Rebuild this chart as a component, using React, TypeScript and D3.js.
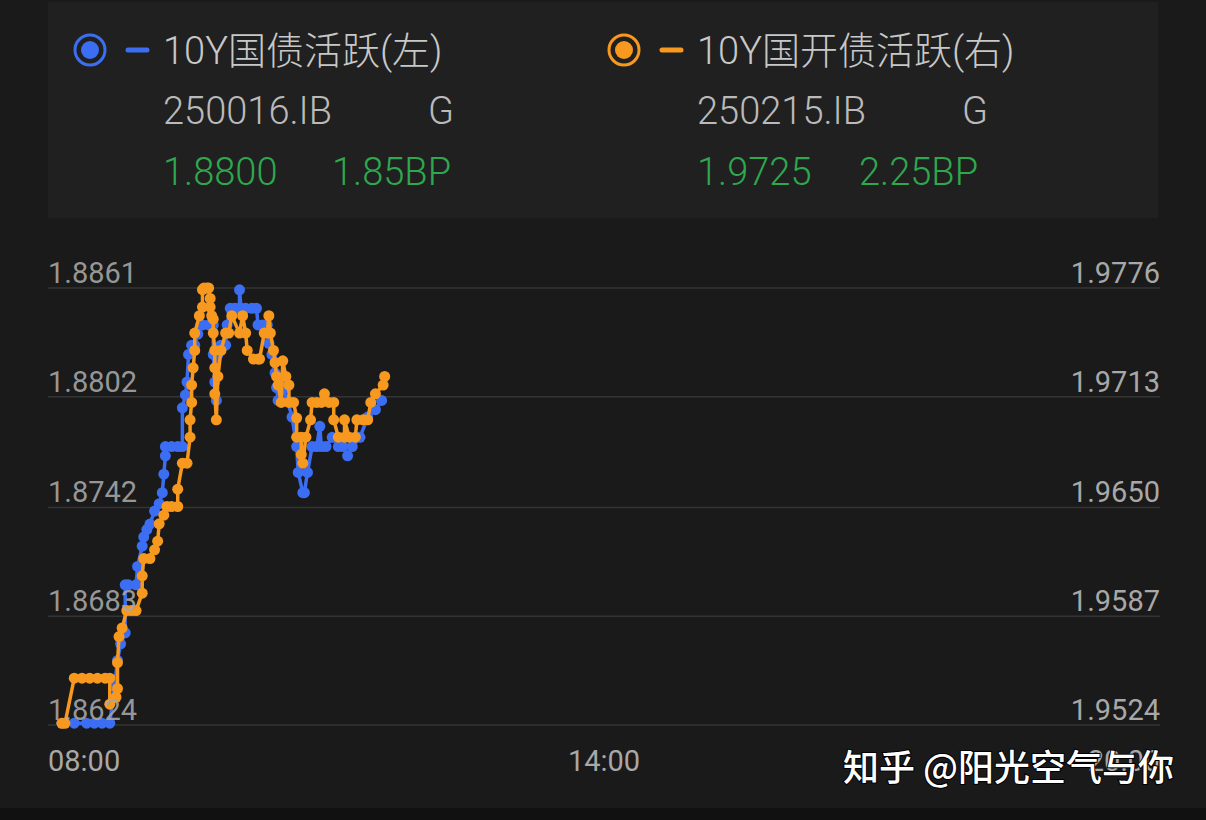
import React from "react";
import * as d3 from "d3";

// 10Y 国债活跃 (left axis)
const govTimes = [
  "08:09", "08:17", "08:25", "08:30", "08:35", "08:40", "08:43", "08:45", "08:47", "08:50",
  "08:50", "08:52", "08:57", "08:58", "09:01", "09:02", "09:04", "09:06", "09:09", "09:12",
  "09:14", "09:15", "09:16", "09:16", "09:20", "09:24", "09:27", "09:27", "09:29", "09:30",
  "09:31", "09:33", "09:35", "09:37", "09:40", "09:44", "09:47", "09:47", "09:48", "09:49",
  "09:50", "09:52", "09:55", "09:56", "09:58", "10:01", "10:04", "10:04", "10:05", "10:08",
  "10:12", "10:15", "10:16", "10:19", "10:22", "10:23", "10:25", "10:27", "10:28", "10:29",
  "10:30", "10:32", "10:35", "10:38", "10:41", "10:42", "10:45", "10:46", "10:48", "10:51",
  "10:54", "10:56", "10:57", "11:00", "11:04", "11:08", "11:11", "11:14", "11:17", "11:22",
  "11:27", "11:32", "11:36",
];
const govValues = [
  1.8625, 1.8625, 1.8625, 1.8625, 1.8625, 1.8625, 1.8645, 1.8659, 1.8668, 1.8674,
  1.87, 1.87, 1.87, 1.871, 1.8721, 1.8726, 1.873, 1.8733, 1.874, 1.8744,
  1.875, 1.876, 1.877, 1.8775, 1.8775, 1.8775, 1.8775, 1.8796, 1.8803, 1.881,
  1.8825, 1.883, 1.883, 1.8836, 1.8841, 1.8841, 1.8841, 1.8825, 1.881, 1.88,
  1.8825, 1.883, 1.883, 1.8841, 1.885, 1.885, 1.885, 1.886, 1.885, 1.885,
  1.885, 1.885, 1.8841, 1.8841, 1.8841, 1.8831, 1.8825, 1.8815, 1.8807, 1.88,
  1.881, 1.8806, 1.88, 1.8791, 1.8775, 1.8761, 1.875, 1.875, 1.8761, 1.8775,
  1.8775, 1.8786, 1.8775, 1.8775, 1.878, 1.8775, 1.8775, 1.877, 1.8775, 1.878,
  1.8791, 1.8795, 1.88,
];

// 10Y 国开债活跃 (right axis)
const cdbTimes = [
  "08:09", "08:11", "08:17", "08:22", "08:27", "08:32", "08:37", "08:40", "08:40", "08:44",
  "08:45", "08:45", "08:46", "08:48", "08:51", "08:54", "08:57", "09:01", "09:01", "09:02",
  "09:06", "09:09", "09:11", "09:12", "09:15", "09:17", "09:20", "09:24", "09:24", "09:27",
  "09:30", "09:32", "09:32", "09:33", "09:33", "09:34", "09:35", "09:35", "09:38", "09:40",
  "09:40", "09:41", "09:43", "09:44", "09:45", "09:45", "09:46", "09:47", "09:47", "09:48",
  "09:48", "09:48", "09:49", "09:50", "09:52", "09:55", "09:57", "09:59", "10:04", "10:06",
  "10:08", "10:09", "10:13", "10:16", "10:17", "10:20", "10:22", "10:23", "10:24", "10:26",
  "10:27", "10:28", "10:29", "10:31", "10:32", "10:34", "10:36", "10:36", "10:39", "10:41",
  "10:41", "10:44", "10:44", "10:45", "10:47", "10:50", "10:51", "10:54", "10:57", "10:59",
  "11:02", "11:05", "11:05", "11:08", "11:12", "11:12", "11:15", "11:19", "11:20", "11:24",
  "11:27", "11:29", "11:32", "11:37", "11:38",
];
const cdbValues = [
  1.9525, 1.9525, 1.9551, 1.9551, 1.9551, 1.9551, 1.9551, 1.9551, 1.9536, 1.954,
  1.9545, 1.956, 1.9575, 1.958, 1.959, 1.959, 1.959, 1.96, 1.961, 1.962,
  1.962, 1.9625, 1.963, 1.964, 1.9645, 1.965, 1.965, 1.965, 1.966, 1.9675,
  1.9675, 1.969, 1.97, 1.971, 1.972, 1.973, 1.974, 1.975, 1.976, 1.9765,
  1.9775, 1.9776, 1.9776, 1.9776, 1.977, 1.9765, 1.976, 1.9758, 1.975, 1.974,
  1.973, 1.9715, 1.97, 1.9725, 1.974, 1.975, 1.975, 1.976, 1.975, 1.976,
  1.975, 1.974, 1.9735, 1.9735, 1.9735, 1.975, 1.975, 1.976, 1.975, 1.974,
  1.9733, 1.9725, 1.972, 1.971, 1.9734, 1.9725, 1.972, 1.971, 1.971, 1.9701,
  1.969, 1.969, 1.968, 1.9675, 1.969, 1.97, 1.971, 1.971, 1.971, 1.9715,
  1.971, 1.971, 1.97, 1.969, 1.969, 1.97, 1.969, 1.969, 1.97, 1.97,
  1.97, 1.971, 1.9715, 1.972, 1.9725,
];

const leftTicks = [1.8861, 1.8802, 1.8742, 1.8683, 1.8624];
const rightTicks = [1.9776, 1.9713, 1.965, 1.9587, 1.9524];
const timeTicks = ["08:00", "14:00", "20:00"];

const legendNames = ["10Y国债活跃(左)", "10Y国开债活跃(右)"];
const legendCodes = ["250016.IB", "250215.IB"];
const legendLast = ["1.8800", "1.9725"];
const legendChange = ["1.85BP", "2.25BP"];

const BLUE = "#3b6ef2";
const ORANGE = "#f7981f";
const GREEN = "#2ea84e";
const FONT = "Roboto, 'Noto Sans CJK SC', sans-serif";

const parseTime = d3.timeParse("%H:%M");

const W = 1206;
const H = 820;

const x = d3
  .scaleTime()
  .domain([parseTime("08:00")!, parseTime("20:00")!])
  .range([48, 1160]);
const yLeft = d3.scaleLinear().domain([1.8624, 1.8861]).range([725, 288]);
const yRight = d3.scaleLinear().domain([1.9524, 1.9776]).range([725, 288]);

type Pt = { t: Date; v: number };

const govData: Pt[] = govTimes.map((t, i) => ({ t: parseTime(t)!, v: govValues[i] }));
const cdbData: Pt[] = cdbTimes.map((t, i) => ({ t: parseTime(t)!, v: cdbValues[i] }));

const Series: React.FC<{ data: Pt[]; y: d3.ScaleLinear<number, number>; color: string }> = ({
  data,
  y,
  color,
}) => {
  const line = d3
    .line<Pt>()
    .x((d) => x(d.t))
    .y((d) => y(d.v));
  return (
    <g>
      <path d={line(data) || ""} fill="none" stroke={color} strokeWidth={3.5} strokeLinejoin="round" />
      {data.map((d, i) => (
        <circle key={i} cx={x(d.t)} cy={y(d.v)} r={5.5} fill={color} />
      ))}
    </g>
  );
};

const Legend: React.FC<{ i: number; x0: number; color: string; gX: number; chgX: number }> = ({
  i,
  x0,
  color,
  gX,
  chgX,
}) => (
  <g fontFamily={FONT} fontWeight={300}>
    <circle cx={x0 - 73} cy={50} r={15} fill="none" stroke={color} strokeWidth={3} />
    <circle cx={x0 - 73} cy={50} r={9} fill={color} />
    <line x1={x0 - 35} x2={x0 - 16} y1={50} y2={50} stroke={color} strokeWidth={5} strokeLinecap="round" />
    <text x={x0} y={64} fontSize={38} fill="#c8c8c8">
      {legendNames[i]}
    </text>
    <text x={x0} y={124} fontSize={38} fill="#bababa">
      {legendCodes[i]}
    </text>
    <text x={gX} y={124} fontSize={38} fill="#bababa" textAnchor="middle">
      G
    </text>
    <text x={x0} y={185} fontSize={38} fill={GREEN}>
      {legendLast[i]}
    </text>
    <text x={chgX} y={185} fontSize={38} fill={GREEN}>
      {legendChange[i]}
    </text>
  </g>
);

export default function App() {
  return (
    <svg width={W} height={H} style={{ position: "absolute", left: 0, top: 0 }}>
      <rect width={W} height={H} fill="#1a1a1a" />
      <rect x={0} y={808} width={W} height={12} fill="#111" />
      <rect x={48} y={2} width={1110} height={216} fill="#202020" />

      <Legend i={0} x0={163} color={BLUE} gX={441} chgX={332} />
      <Legend i={1} x0={697} color={ORANGE} gX={975} chgX={859} />

      {leftTicks.map((t) => (
        <line key={t} x1={48} x2={1160} y1={yLeft(t)} y2={yLeft(t)} stroke="#343434" strokeWidth={1.5} />
      ))}

      <Series data={govData} y={yLeft} color={BLUE} />
      <Series data={cdbData} y={yRight} color={ORANGE} />

      <g fontFamily={FONT} fontSize={29} fill="#a8a8a8">
        {leftTicks.map((t) => (
          <text key={t} x={48} y={yLeft(t) - 5} fillOpacity={0.9}>
            {t.toFixed(4)}
          </text>
        ))}
        {rightTicks.map((t) => (
          <text key={t} x={1160} y={yRight(t) - 5} textAnchor="end">
            {t.toFixed(4)}
          </text>
        ))}
        {timeTicks.map((t, i) => (
          <text
            key={t}
            x={x(parseTime(t)!)}
            y={771}
            textAnchor={i === 0 ? "start" : i === timeTicks.length - 1 ? "end" : "middle"}
          >
            {t}
          </text>
        ))}
      </g>

      <text
        x={843}
        y={781}
        fontFamily="'Noto Sans CJK SC', sans-serif"
        fontSize={36}
        fontWeight={500}
        fill="#ffffff"
        style={{ paintOrder: "stroke" }}
        stroke="#000"
        strokeWidth={2}
      >
        知乎 @阳光空气与你
      </text>
    </svg>
  );
}
